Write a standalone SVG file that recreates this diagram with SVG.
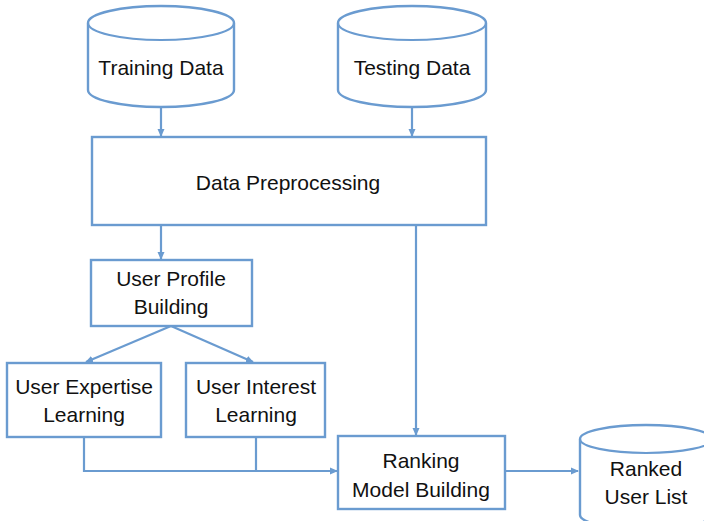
<svg xmlns="http://www.w3.org/2000/svg" width="704" height="521" viewBox="0 0 704 521">
<defs>
<style>
.s{fill:#fff;stroke:#6A9BD0;stroke-width:2.4}
.c{fill:none;stroke:#6A9BD0;stroke-width:2.2}
.t{font-family:"Liberation Sans",Arial,sans-serif;font-size:21px;fill:#111;text-anchor:middle}
</style>
<marker id="a" markerWidth="8" markerHeight="8" refX="7" refY="4" orient="auto" markerUnits="userSpaceOnUse">
<path d="M0,0.5 L8,4 L0,7.5 Z" fill="#6A9BD0"/>
</marker>
</defs>
<rect width="704" height="521" fill="#fff"/>
<g id="connectors">
<path class="c" d="M161,108 V136" marker-end="url(#a)"/>
<path class="c" d="M412,108 V136" marker-end="url(#a)"/>
<path class="c" d="M161,225 V259" marker-end="url(#a)"/>
<path class="c" d="M416,225 V435" marker-end="url(#a)"/>
<path class="c" d="M171,326 L86,362" marker-end="url(#a)"/>
<path class="c" d="M171,326 L253,362" marker-end="url(#a)"/>
<path class="c" d="M84,437 V471 H337" marker-end="url(#a)"/>
<path class="c" d="M256,437 V471"/>
<path class="c" d="M505,471 H578" marker-end="url(#a)"/>
</g>
<g id="training">
<path class="s" d="M88,23 V90 A73,17 0 0 0 234,90 V23 A73,17 0 0 0 88,23 Z"/>
<path class="c" d="M88,23 A73,17 0 0 0 234,23"/>
<text class="t" x="161" y="75">Training Data</text>
</g>
<g id="testing">
<path class="s" d="M338,23 V90 A74,17 0 0 0 486,90 V23 A74,17 0 0 0 338,23 Z"/>
<path class="c" d="M338,23 A74,17 0 0 0 486,23"/>
<text class="t" x="412" y="75">Testing Data</text>
</g>
<g id="preprocessing">
<rect class="s" x="92" y="137" width="394" height="88"/>
<text class="t" x="288" y="190">Data Preprocessing</text>
</g>
<g id="profile">
<rect class="s" x="91" y="260" width="161" height="66"/>
<text class="t" x="171" y="286">User Profile</text>
<text class="t" x="171" y="314">Building</text>
</g>
<g id="expertise">
<rect class="s" x="7" y="363" width="154" height="74"/>
<text class="t" x="84" y="394">User Expertise</text>
<text class="t" x="84" y="422">Learning</text>
</g>
<g id="interest">
<rect class="s" x="186" y="363" width="139" height="74"/>
<text class="t" x="256" y="394">User Interest</text>
<text class="t" x="256" y="422">Learning</text>
</g>
<g id="ranking">
<rect class="s" x="338" y="436" width="167" height="73"/>
<text class="t" x="421" y="468">Ranking</text>
<text class="t" x="421" y="497">Model Building</text>
</g>
<g id="ranked">
<path class="s" d="M580,439 V515 A66,14 0 0 0 712,515 V439 A66,14 0 0 0 580,439 Z"/>
<path class="c" d="M580,439 A66,14 0 0 0 712,439"/>
<text class="t" x="646" y="476">Ranked</text>
<text class="t" x="646" y="504">User List</text>
</g>
</svg>
